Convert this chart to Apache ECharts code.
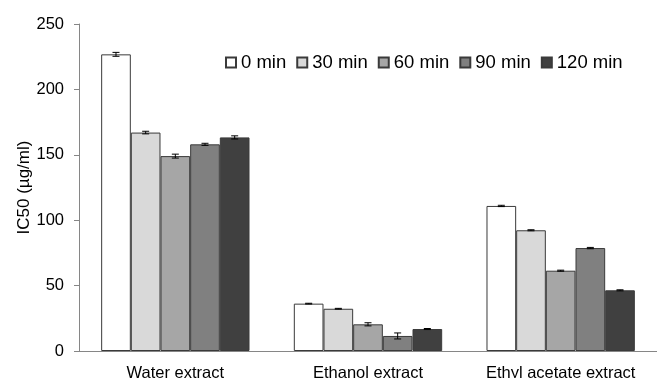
<!DOCTYPE html>
<html><head><meta charset="utf-8">
<script src="https://cdn.jsdelivr.net/npm/echarts@6/dist/echarts.min.js"></script>
<style>html,body{margin:0;padding:0;background:#fff}#c{width:657px;height:378px}</style>
</head><body><div id="c"></div>
<script>
var categories = ['Water extract', 'Ethanol extract', 'Ethyl acetate extract'];
var seriesNames = ['0 min', '30 min', '60 min', '90 min', '120 min'];
var colors = ['#ffffff', '#d9d9d9', '#a6a6a6', '#808080', '#404040'];
var v0 = [226.8, 36.2, 110.9];
var v30 = [167.0, 32.3, 92.3];
var v60 = [149.0, 20.4, 61.4];
var v90 = [158.0, 11.5, 78.7];
var v120 = [163.3, 16.8, 46.4];
var e0 = [1.5, 0.3, 0.5];
var e30 = [1.0, 0.3, 0.4];
var e60 = [1.5, 1.2, 0.4];
var e90 = [0.8, 2.3, 0.5];
var e120 = [1.2, 0.4, 0.4];
var yTicks = [0, 50, 100, 150, 200, 250];

var values = [v0, v30, v60, v90, v120];
var errors = [e0, e30, e60, e90, e120];
var GAP = 0.23;
var FONT = 'Liberation Sans, Arial, sans-serif';

var series = [];
values.forEach(function (vals, i) {
  series.push({
    name: seriesNames[i], type: 'bar', data: vals,
    barGap: '0%', barCategoryGap: (GAP * 100) + '%',
    itemStyle: { color: colors[i], borderColor: '#3a3a3a', borderWidth: 1 },
    z: 2
  });
});
var errData = [];
values.forEach(function (vals, i) {
  vals.forEach(function (v, c) { errData.push([c, v, errors[i][c], i]); });
});
series.push({
  type: 'custom', data: errData, z: 5, silent: true,
  encode: { x: 0, y: 1 },
  renderItem: function (params, api) {
    var c = api.value(0), v = api.value(1), e = api.value(2), s = api.value(3);
    var band = api.size([1, 0])[0];
    var center = api.coord([c, 0])[0];
    var bw = band * (1 - GAP) / 5;
    var x = center - band * (1 - GAP) / 2 + bw * (s + 0.5);
    var top = api.coord([c, v + e])[1];
    var bot = api.coord([c, v - e])[1];
    var cap = 3.5;
    var st = { stroke: '#000', lineWidth: 1 };
    return { type: 'group', children: [
      { type: 'line', shape: { x1: x, y1: top, x2: x, y2: bot }, style: st },
      { type: 'line', shape: { x1: x - cap, y1: top, x2: x + cap, y2: top }, style: st },
      { type: 'line', shape: { x1: x - cap, y1: bot, x2: x + cap, y2: bot }, style: st }
    ]};
  }
});

var chart = echarts.init(document.getElementById('c'));
chart.setOption({
  animation: false,
  backgroundColor: '#fff',
  textStyle: { fontFamily: FONT, color: '#000' },
  grid: { left: 79, right: 0, top: 24, bottom: 27, containLabel: false, outerBoundsMode: 'none' },
  legend: {
    data: seriesNames, left: 220, top: 48, itemWidth: 10, itemHeight: 10, itemGap: 10,
    icon: 'rect',
    textStyle: { fontFamily: FONT, fontSize: 18.5, color: '#000' }
  },
  xAxis: {
    type: 'category', data: categories,
    axisLine: { lineStyle: { color: '#868686' } },
    axisTick: { length: 5, lineStyle: { color: '#868686' } },
    axisLabel: { interval: 0, fontFamily: FONT, fontSize: 16.5, color: '#000', margin: 14 }
  },
  yAxis: {
    type: 'value', min: 0, max: 250, interval: 50,
    name: 'IC50 (µg/ml)', nameLocation: 'middle', nameGap: 46, nameRotate: 90,
    nameMoveOverlap: false,
    nameTextStyle: { fontFamily: FONT, fontSize: 17, color: '#000' },
    axisLine: { show: true, lineStyle: { color: '#868686' } },
    axisTick: { show: true, length: 5, lineStyle: { color: '#868686' } },
    splitLine: { show: false },
    axisLabel: { fontFamily: FONT, fontSize: 16.5, color: '#000', margin: 15,
      formatter: function (v) { return yTicks.indexOf(v) >= 0 ? String(v) : ''; } }
  },
  series: series
});
</script></body></html>
